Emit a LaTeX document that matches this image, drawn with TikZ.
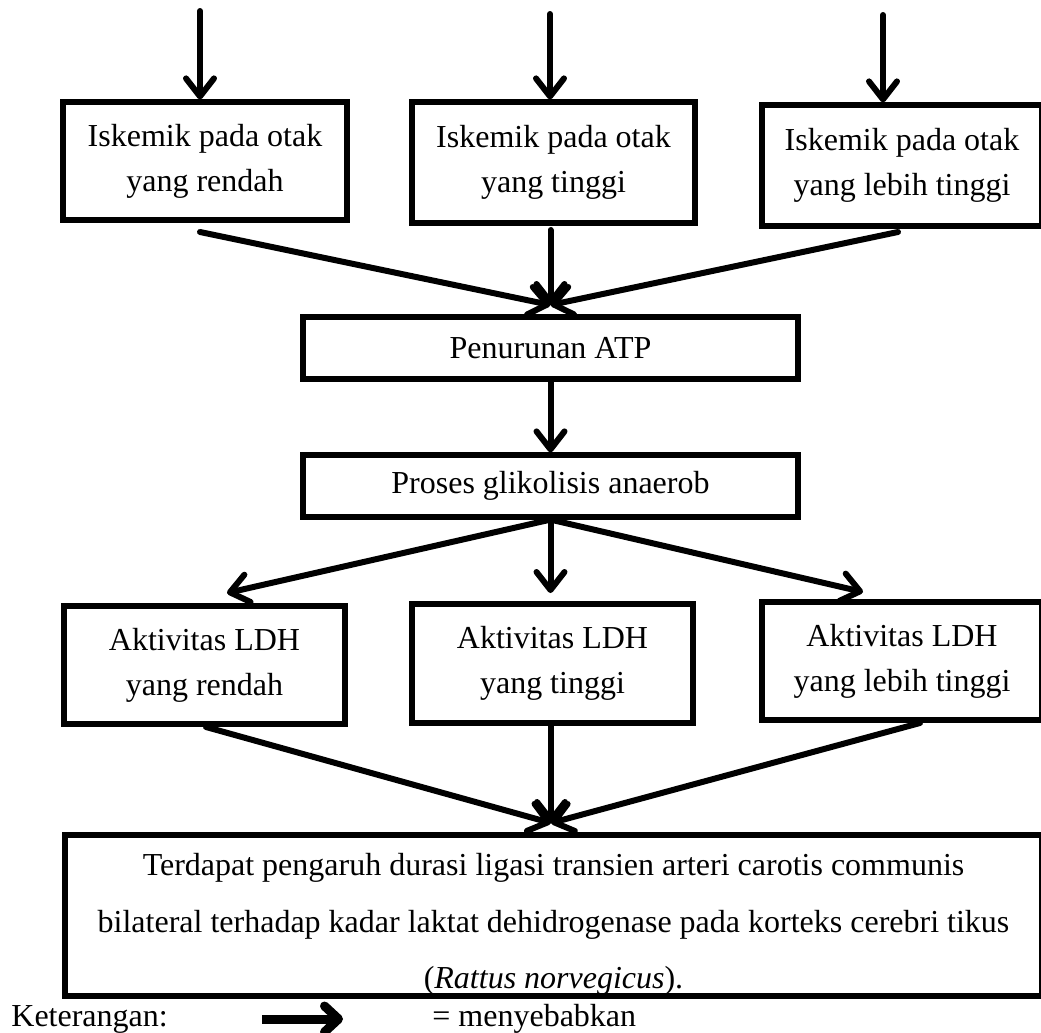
\documentclass[tikz,border=0pt]{standalone}
\usepackage{fontspec}
\setmainfont{Liberation Serif}
\usetikzlibrary{arrows.meta}
\begin{document}
\begin{tikzpicture}[x=0.5pt,y=-0.5pt,
  box/.style={draw, line width=2.6pt, inner sep=0pt, align=center,
    font=\fontsize{16}{22.5}\selectfont},
  arr/.style={line width=3pt, line cap=round,
    -{Straight Barb[length=9pt,width=14pt,round]}},
  txt/.style={inner sep=0pt, font=\fontsize{16}{22.5}\selectfont}]
\useasboundingbox (0,0) rectangle (1041,1033);
% top boxes
\node[box, minimum width=142pt, minimum height=59pt] (A1) at (205,161) {Iskemik pada otak\\yang rendah};
\node[box, minimum width=141.5pt, minimum height=60.5pt] (A2) at (553.5,162.5) {Iskemik pada otak\\yang tinggi};
\node[box, minimum width=140pt, minimum height=60.5pt] (A3) at (902,165.5) {Iskemik pada otak\\yang lebih tinggi};
% middle boxes
\node[box, minimum width=247.5pt, minimum height=31pt] (B) at (550.5,348) {Penurunan ATP};
\node[box, minimum width=247.5pt, minimum height=31pt] (C) at (550.5,486) {Proses glikolisis anaerob};
% LDH boxes
\node[box, minimum width=140.5pt, minimum height=59pt] (D1) at (204.5,665) {Aktivitas LDH\\yang rendah};
\node[box, minimum width=140.5pt, minimum height=59.5pt] (D2) at (552.5,663.5) {Aktivitas LDH\\yang tinggi};
\node[box, minimum width=140pt, minimum height=59pt] (D3) at (902,661) {Aktivitas LDH\\yang lebih tinggi};
% bottom box text (clipped by box)
\begin{scope}
\clip (60,835) rectangle (1041,995);
\node[txt, anchor=base] (t1) at (553.5,875) {Terdapat pengaruh durasi ligasi transien arteri carotis communis};
\node[txt, anchor=base] (t2) at (553.5,932) {bilateral terhadap kadar laktat dehidrogenase pada korteks cerebri tikus};
\node[txt, anchor=base] (t3) at (553.5,988) {(\textit{Rattus norvegicus}).};
\end{scope}
\node[box, minimum width=488.5pt, minimum height=80.5pt] (E) at (553.5,915.5) {};
% coordinates
\coordinate (s1) at (200,11);
\coordinate (s2) at (550,14);
\coordinate (s3) at (883,15);
\coordinate (a1) at (200,232);
\coordinate (a2) at (550.5,230);
\coordinate (a3) at (898,232);
\coordinate (pB) at (550.5,305);
\coordinate (c1) at (227,593);
\coordinate (c2) at (550.5,593);
\coordinate (c3) at (863,592);
\coordinate (d1) at (206,727);
\coordinate (d2) at (551,725);
\coordinate (d3) at (920,723);
\coordinate (pE) at (551,823);
% arrows
\draw[arr] (s1) -- (s1 |- A1.north);
\draw[arr] (s2) -- (s2 |- A2.north);
\draw[arr] (s3) -- (s3 |- A3.north);
\draw[arr] (a1) -- (pB);
\draw[arr] (a2) -- (pB);
\draw[arr] (a3) -- (pB);
\draw[arr] (B.south) -- (C.north);
\draw[arr] (C.south) -- (c1);
\draw[arr] (C.south) -- (c2);
\draw[arr] (C.south) -- (c3);
\draw[arr] (d1) -- (pE);
\draw[arr] (d2) -- (pE);
\draw[arr] (d3) -- (pE);
% legend
\node[txt, anchor=base west] (ket) at (11,1026) {Keterangan:};
\node[txt, anchor=base west] (meny) at (432,1026) {= menyebabkan};
\coordinate (l1) at (262,1019);
\coordinate (l2) at (343,1019);
\draw[line width=4.5pt, -{Straight Barb[length=7pt,width=13pt,round]}] (l1) -- (l2);
\end{tikzpicture}
\end{document}
